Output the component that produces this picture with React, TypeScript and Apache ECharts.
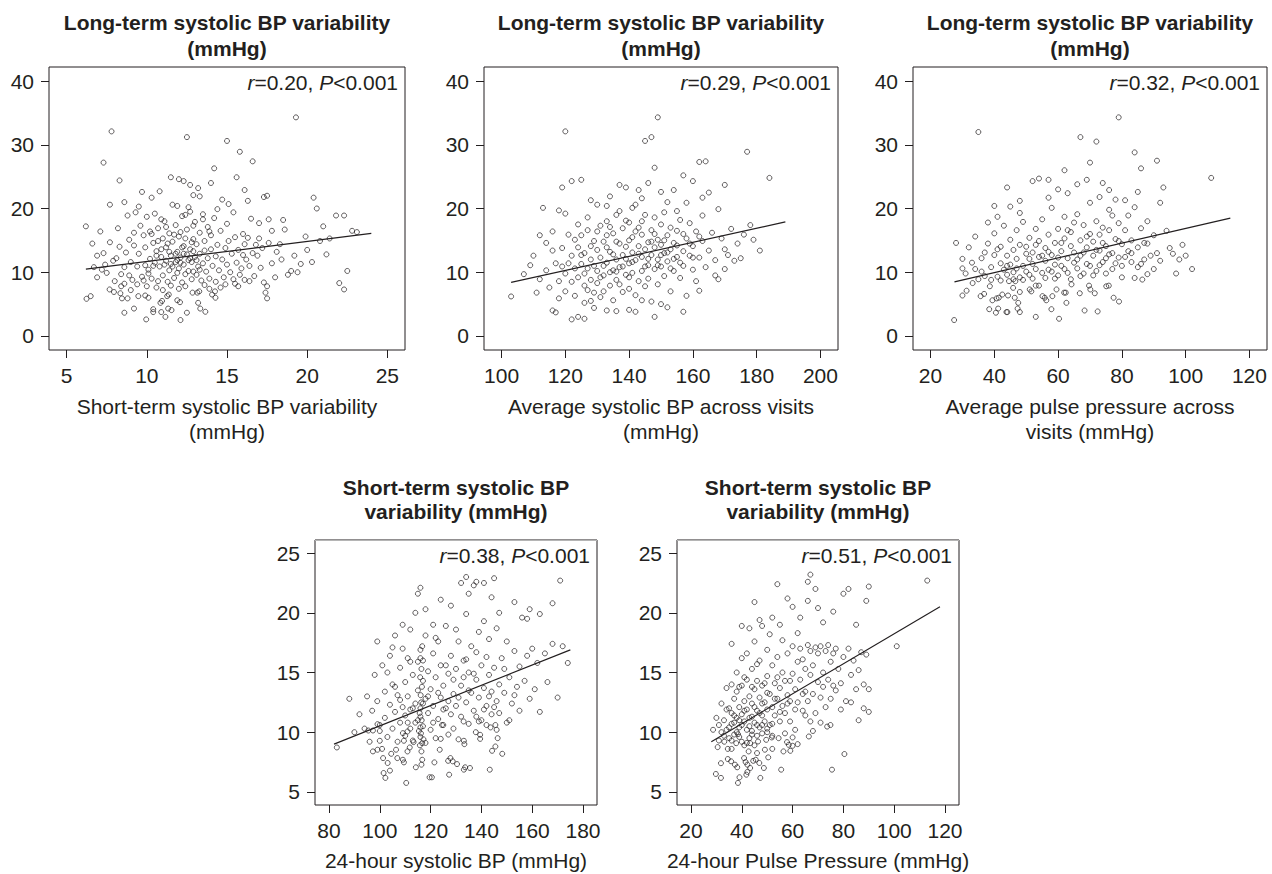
import React, { useEffect, useRef } from 'react';
import * as echarts from 'echarts';

const FONT = '"Liberation Sans", Arial, Helvetica, sans-serif';
const INK = '#231f20';

// ---------- tick labels ----------
const X1_TICKS = [5, 10, 15, 20, 25];
const X2_TICKS = [100, 120, 140, 160, 180, 200];
const X3_TICKS = [20, 40, 60, 80, 100, 120];
const X4_TICKS = [80, 100, 120, 140, 160, 180];
const X5_TICKS = [20, 40, 60, 80, 100, 120];
const Y_TOP_TICKS = [0, 10, 20, 30, 40];
const Y_BOT_TICKS = [5, 10, 15, 20, 25];

// ---------- titles ----------
const TITLES = [
  'Long-term systolic BP variability\n(mmHg)',
  'Long-term systolic BP variability\n(mmHg)',
  'Long-term systolic BP variability\n(mmHg)',
  'Short-term systolic BP\nvariability (mmHg)',
  'Short-term systolic BP\nvariability (mmHg)',
];
const X_NAMES = [
  'Short-term systolic BP variability\n(mmHg)',
  'Average systolic BP across visits\n(mmHg)',
  'Average pulse pressure across\nvisits (mmHg)',
  '24-hour systolic BP (mmHg)',
  '24-hour Pulse Pressure (mmHg)',
];
const R_VALUES = ['0.20', '0.29', '0.32', '0.38', '0.51'];

// ---------- regression lines ----------
const FIT1: [number, number][] = [[6.2, 10.5], [24.0, 16.1]];
const FIT2: [number, number][] = [[103, 8.4], [189, 17.9]];
const FIT3: [number, number][] = [[27.5, 8.5], [114, 18.5]];
const FIT4: [number, number][] = [[82, 9.0], [175, 16.9]];
const FIT5: [number, number][] = [[28, 9.2], [118, 20.5]];

// ---------- panel 1: short-term SBPV vs long-term SBPV ----------
const P1: [number, number][] = [
  [6.24,5.83],[6.5,6.25],[7.68,7.3],[7.95,6.9],[8.35,6.7],[8.4,7.8],[8.45,5.9],[8.6,8.2],[8.8,5.9],[8.6,3.65],[9.2,4.3],[9.47,6.25],[9.96,2.6],[9.9,6.35],[10.1,6.0],[10.0,7.8],[10.4,4.2],[10.4,3.75],[10.9,3.75],[11.16,3.0],[10.95,5.5],[10.85,5.2],[11.27,6.25],[11.37,6.5],[11.54,4.06],[11.33,4.3],[11.9,5.6],[12.07,5.3],[12.1,2.5],[12.5,3.65],[13.2,5.2],[13.33,4.3],[13.65,3.8],[12.85,6.8],[13.15,6.8],[13.27,7.0],[13.9,7.4],[14.07,6.5],[14.28,6.0],[14.25,7.0],[15.5,8.2],[15.7,7.8],[16.4,8.6],[17.4,6.8],[17.5,7.8],[17.5,5.9],[22.0,8.3],[22.3,7.3],
  [7.8,32.1],[12.5,31.2],[19.3,34.3],[15.0,30.6],[15.8,28.9],[16.6,27.4],[7.3,27.2],[8.3,24.4],[7.7,20.6],[11.5,24.9],[12.0,24.6],[12.3,24.3],[13.2,23.2],[12.7,23.7],[14.2,26.3],[9.7,22.6],[10.3,21.7],[13.3,21.9],[12.6,20.2],[14.7,21.4],[15.1,20.7],[16.3,21.2],[17.3,21.8],[17.5,22.0],[20.4,21.7],[20.6,20.0],[21.8,18.9],[22.3,18.9],[22.8,16.5],[23.1,16.3],[22.5,10.2],[20.8,14.9],[21.4,15.3],[19.9,15.6],[19.2,12.6],[19.0,10.2],[18.8,9.6],[19.6,11.3],[18.3,14.4],[18.6,16.7],[17.6,18.3],[17.0,17.7],[16.8,14.3],[16.5,18.4],[16.2,12.0],[15.4,8.9],[16.0,16.0],[16.9,12.6],[17.8,11.4],[18.1,13.2],
  [6.2,17.2],[6.6,14.5],[6.9,12.6],[7.1,16.4],[7.3,13.0],[7.5,9.9],[7.2,10.4],[6.7,10.8],[7.9,11.8],[7.7,14.7],[8.1,12.2],[8.2,16.9],[8.4,9.7],[8.6,10.8],[8.7,13.1],[8.9,15.1],[8.8,18.9],[9.0,11.6],[9.1,8.8],[9.3,19.4],[9.2,14.2],[9.4,10.9],[9.5,12.9],[9.6,17.3],[9.7,9.3],[9.8,15.8],[9.9,11.1],[9.9,13.9],[10.0,18.7],[10.1,10.4],[10.2,12.1],[10.2,16.4],[10.3,9.0],[10.4,14.6],[10.5,11.5],[10.5,19.2],[10.6,13.3],[10.7,8.6],[10.7,16.9],[10.8,10.9],[10.9,12.4],[11.0,15.3],[11.0,9.5],[11.1,18.0],[11.2,11.8],[11.2,13.9],[11.3,8.5],[11.4,16.1],[11.4,10.3],[11.5,12.6],[11.6,14.8],[11.6,20.6],[11.7,9.1],[11.8,11.6],[11.8,17.4],[11.9,13.2],[12.0,10.6],[12.0,15.6],[12.1,12.3],[12.2,8.4],[12.2,18.8],[12.3,11.2],[12.3,14.1],[12.4,9.7],[12.5,16.7],[12.5,12.8],[12.6,10.2],[12.7,13.6],[12.7,19.5],[12.8,8.9],[12.8,11.6],[12.9,15.2],[13.0,12.4],[13.0,17.9],[13.1,9.6],[13.1,14.4],[13.2,10.9],[13.3,16.2],[13.3,12.9],[13.4,8.7],[13.5,11.4],[13.5,19.1],[13.6,14.9],[13.7,10.1],[13.8,12.2],[13.8,17.1],[13.9,9.0],[14.0,13.6],[14.0,15.8],[14.1,11.0],[14.2,18.5],[14.3,8.5],[14.3,12.5],[14.4,14.3],[14.5,10.3],[14.6,16.5],[14.7,12.0],[14.8,9.2],[14.9,13.8],[15.0,11.2],[15.0,17.6],[15.1,14.9],[15.2,10.0],[15.3,12.9],[15.4,19.4],[15.5,15.5],[15.6,11.5],[15.7,13.5],[15.9,10.6],[16.0,12.7],[16.1,14.4],[16.3,15.4],[16.4,11.0],[16.6,13.0],[16.7,9.4],[17.0,15.3],[17.1,10.7],[17.2,13.8],[17.6,14.6],[17.8,16.5],[18.0,9.2],[18.4,12.0],[18.5,18.2],[19.4,10.0],[20.0,13.5],[20.3,11.6],[21.0,17.2],[21.2,12.8],
  [9.4,8.1],[9.8,8.7],[10.6,7.6],[11.0,7.2],[11.5,7.9],[12.0,7.4],[12.4,7.8],[13.6,8.0],[14.6,7.6],[9.0,7.2],[8.9,9.5],[10.1,9.8],[11.9,9.9],[12.9,10.1],[13.3,10.4],[10.4,11.0],[11.1,11.2],[12.6,11.9],[11.8,12.9],[10.9,13.6],[12.2,13.9],[13.6,13.4],[11.3,14.5],[12.8,14.7],[10.7,14.9],[12.4,15.3],[11.7,15.9],[13.9,16.4],[10.3,16.0],[12.1,16.3],[11.2,17.1],[12.9,17.3],[10.9,18.3],[13.5,18.3],[12.4,19.0],[14.4,19.9],[11.9,20.4],[9.5,20.3],[8.6,21.0],[10.8,22.7],[12.9,22.1],[14.0,24.0],[15.6,24.9],[16.1,22.9],[9.2,16.2],[8.3,14.0],[7.4,11.2],[6.9,9.2],[8.0,8.6],[14.9,8.1],[16.1,8.8],[15.8,9.6],[17.3,8.4],
  [11.6,10.9],[12.1,11.5],[12.7,12.2],[11.4,13.2],[12.3,12.9],[13.1,11.9],[11.9,11.9],[10.6,12.6],[12.9,13.3],[11.5,11.3],
];

// ---------- panel 2: average SBP vs long-term SBPV ----------
const P2: [number, number][] = [
  [103,6.2],[107,9.7],[110,12.6],[112,15.8],[113,20.1],[114,10.3],[115,7.6],[116,4.0],[117,3.7],[118,5.9],[120,32.1],[149,34.3],[145,30.6],[147,31.2],[125,24.5],[122,24.3],[162,27.3],[164,27.4],[177,28.9],[184,24.8],[148,26.4],[137,23.7],[139,23.3],[143,22.9],[134,21.9],[130,20.6],[120,19.2],[118,19.7],[116,16.4],[119,13.8],[121,11.4],[122,2.6],[124,3.0],[126,5.2],[128,5.5],[133,4.0],[140,4.1],[142,3.8],[148,3.0],[150,5.0],[157,3.8],[162,7.1],[167,9.5],[168,8.9],[173,11.8],[176,15.9],[178,17.4],[170,13.6],[163,21.7],[165,22.5],[160,24.3],[158,20.9],[155,19.6],[152,21.0],[150,22.6],[146,24.0],[141,20.1],[136,19.0],[127,18.6],[124,17.5],[123,15.1],[125,12.7],[126,9.8],[127,7.2],[128,14.1],[129,11.0],[130,8.3],[130,16.4],[131,12.3],[131,6.1],[132,9.5],[132,14.8],[133,11.5],[133,18.0],[134,7.9],[134,13.2],[135,10.3],[135,16.1],[135,5.6],[136,12.0],[136,8.8],[137,14.5],[137,10.8],[137,19.6],[138,6.9],[138,12.7],[138,16.9],[139,9.6],[139,14.0],[140,11.4],[140,17.8],[140,7.4],[141,13.1],[141,9.9],[141,15.5],[142,11.9],[142,20.6],[142,6.4],[143,14.1],[143,8.6],[143,17.0],[144,12.4],[144,10.2],[144,15.9],[145,13.6],[145,7.8],[145,19.0],[146,11.1],[146,14.7],[146,9.0],[147,16.6],[147,12.7],[147,5.4],[148,13.9],[148,10.5],[148,18.6],[149,15.1],[149,8.1],[149,12.0],[150,17.5],[150,10.9],[150,14.3],[151,13.0],[151,19.4],[151,9.4],[152,15.8],[152,11.7],[153,13.6],[153,7.0],[153,17.0],[154,10.2],[154,14.6],[155,12.4],[155,16.5],[156,9.1],[156,18.2],[157,13.3],[157,11.0],[158,15.3],[158,6.3],[159,12.6],[159,17.7],[160,10.4],[160,14.1],[161,16.4],[161,8.6],[162,12.3],[163,18.9],[163,14.9],[164,10.8],[165,13.4],[166,16.2],[167,11.9],[168,19.9],[169,15.3],[170,10.5],[171,12.7],[172,16.8],[174,14.5],[175,12.2],[179,15.1],[181,13.4],
  [120,9.8],[120,7.0],[121,15.9],[122,12.6],[122,8.5],[123,10.6],[123,6.3],[124,13.9],[124,9.2],[125,11.3],[125,15.8],[126,13.0],[126,7.9],[127,10.6],[127,16.6],[128,12.0],[128,8.8],[129,14.9],[129,6.8],[130,10.2],[130,13.5],[131,17.3],[131,9.2],[132,11.0],[132,7.0],[133,13.9],[133,15.8],[134,10.0],[134,17.1],[135,12.8],[136,14.8],[136,10.1],[137,8.1],[138,10.9],[139,12.1],[139,18.1],[140,15.0],[140,9.2],[141,11.6],[142,16.4],[143,12.9],[144,18.0],[145,10.9],[146,12.1],[147,14.8],[148,16.0],[149,11.1],[150,12.7],[151,15.0],[152,13.1],[153,10.6],[154,12.1],[155,14.2],[156,11.5],[157,16.0],[159,14.5],[160,12.3],[162,15.6],[117,11.4],[118,8.6],[119,10.9],[116,13.4],[114,14.6],[112,8.9],[109,11.1],[111,6.8],[119,23.3],[128,21.3],[133,20.4],[144,21.6],[154,22.9],[157,25.2],[170,23.7],[129,4.4],[136,3.9],[144,5.6],[152,4.5],[126,2.7],
];

// ---------- panel 3: average pulse pressure vs long-term SBPV ----------
const P3: [number, number][] = [
  [27.4,2.5],[30.0,6.35],[31.3,7.1],[33.2,8.3],[35.7,6.25],[36.8,6.6],[38.4,4.2],[38.6,7.8],[39.4,5.6],[40.5,3.65],[41.2,4.3],[40.7,5.9],[41.4,6.0],[42.5,6.5],[43.8,3.75],[44.1,3.75],[44.3,6.35],[44.6,8.6],[45.9,7.55],[46.4,6.0],[46.6,8.6],[47.5,5.2],[47.3,4.3],[48.0,3.75],[48.0,6.9],[51.1,7.3],[51.6,7.0],[53.0,3.0],[53.0,7.9],[54.0,7.9],[55.1,6.25],[55.8,6.0],[56.3,5.6],[57.9,4.2],[58.2,6.25],[59.5,7.3],[60.3,2.7],[61.9,6.8],[62.4,6.8],[62.6,5.2],[64.2,8.1],[66.8,6.7],[68.3,4.0],[69.7,7.9],[70.1,7.3],[71.5,6.7],[72.4,3.85],[75.1,7.8],[75.9,7.9],[77.4,6.0],[79.1,5.4],[86.4,8.85],
  [35,32.0],[67,31.2],[72,30.5],[79,34.3],[84,28.8],[91,27.5],[86,26.3],[70,27.2],[52,24.3],[54,24.7],[57,24.5],[108,24.8],[93,23.3],[85,22.6],[92,20.9],[100,12.6],[98,12.0],[102,10.5],[97,9.8],[88,9.7],[84,9.1],[62,26.0],[66,23.8],[63,22.4],[74,24.0],[76,22.9],[81,21.3],[45,20.3],[48,19.3],[41,18.7],[38,17.8],[32,13.9],[30,12.1],[28,14.6],[31,9.8],[33,11.5],[34,10.5],[36,12.2],[37,9.4],[38,14.5],[39,10.8],[40,12.7],[40,16.1],[41,9.3],[42,11.4],[42,14.0],[43,10.4],[43,17.3],[44,12.6],[44,9.6],[45,15.1],[45,11.2],[46,13.5],[46,10.0],[47,16.6],[47,12.1],[48,9.2],[48,14.3],[49,11.0],[49,17.9],[50,12.9],[50,10.1],[51,15.4],[51,9.6],[52,13.1],[52,11.3],[53,16.8],[53,10.5],[54,12.4],[54,14.9],[55,9.9],[55,18.3],[56,11.8],[56,13.8],[57,10.4],[57,15.9],[58,12.7],[58,20.1],[59,11.2],[59,14.6],[60,9.5],[60,16.8],[61,13.3],[61,11.0],[62,15.3],[62,18.7],[63,12.2],[63,9.9],[64,14.1],[64,16.3],[65,11.5],[65,13.1],[66,19.1],[66,10.6],[67,15.0],[67,12.6],[68,17.4],[68,9.8],[69,13.9],[69,11.3],[70,16.0],[70,20.9],[71,12.6],[71,14.8],[72,10.2],[72,18.0],[73,13.4],[73,15.9],[74,11.6],[74,17.0],[75,14.1],[75,12.2],[76,16.6],[76,19.8],[77,13.0],[77,10.5],[78,15.2],[78,21.4],[79,12.3],[79,17.7],[80,14.4],[80,11.0],[81,16.6],[82,13.3],[82,18.9],[83,15.0],[83,11.6],[84,20.2],[85,13.9],[86,16.9],[86,11.3],[87,14.6],[88,18.0],[89,12.6],[90,15.8],[91,13.0],[92,11.8],[94,16.5],[95,13.8],[96,12.9],[99,14.3],
  [35,8.9],[36,10.1],[37,13.1],[39,8.8],[41,13.6],[42,8.7],[44,11.0],[46,8.9],[47,10.6],[49,8.8],[50,14.0],[51,12.1],[52,9.0],[53,14.3],[55,12.6],[56,9.1],[57,13.2],[58,10.1],[59,9.0],[60,12.3],[61,14.6],[62,10.5],[63,16.6],[64,8.9],[65,17.8],[66,12.0],[67,9.4],[68,13.1],[69,15.6],[70,11.0],[71,9.5],[72,13.5],[73,11.1],[74,14.6],[75,9.8],[76,12.8],[77,18.9],[78,11.4],[79,14.9],[80,9.2],[81,12.4],[83,13.0],[85,10.8],[87,12.0],[88,14.5],[90,10.5],[48,21.2],[44,23.3],[57,21.7],[60,23.0],[69,24.5],[73,21.8],[40,20.4],[34,15.6],[30,10.6],
];

// ---------- panel 4: 24-h SBP vs short-term SBPV ----------
const P4: [number, number][] = [
  [83.1,8.72],[95.5,10.14],[97.3,10.14],[99.1,10.67],[100,10.1],[97.3,8.39],[99.1,8.53],[100.9,8.6],[100,9.28],[101.3,7.83],[103.1,7.42],[104.5,8.19],[106.4,8.53],[106.9,7.83],[101.5,6.58],[102.2,6.17],[104,6.78],[109.1,7.69],[109.5,7.47],[110.4,5.75],[110.9,8.39],[111.8,8.72],[109.5,9.28],[109.1,9.92],[110.9,10.06],[113.3,9.17],[114.2,7.06],[116.4,7.28],[116.7,7.69],[116.4,8.39],[116.7,9.08],[119.6,6.22],[120.5,6.22],[121.5,7.47],[123.6,8.53],[124,9.44],[124.5,10.6],[126.9,7.6],[127.8,7.83],[128.7,7.56],[127.3,6.44],[130.4,7.33],[133.1,6.86],[133.6,7.06],[135.5,7.0],[133.3,9.0],[133.1,9.28],[137.8,10.0],[139.5,9.78],[139.5,9.44],[143.3,6.86],[144.2,8.44],[145.5,8.8],[146.4,9.5],[148.2,8.19],[145.5,10.6],[143.6,10.4],
  [134,23.0],[138,22.6],[137,22.3],[171,22.7],[116,22.1],[115,21.6],[147,20.0],[132,22.5],[159,20.3],[158,19.5],[144,21.3],[121,19.0],[99,17.6],[114,20.0],[88,12.8],[92,11.5],[95,13.0],[97,11.8],[98,14.8],[99,12.6],[100,10.6],[101,15.6],[102,11.2],[102,13.4],[103,9.6],[104,12.3],[104,16.4],[105,10.3],[105,14.0],[106,11.7],[106,18.1],[107,9.2],[107,13.1],[108,10.8],[108,15.4],[109,12.1],[109,17.0],[110,9.7],[110,11.4],[110,14.2],[111,13.0],[111,16.2],[112,10.3],[112,11.9],[112,18.6],[113,9.3],[113,14.8],[114,12.4],[114,10.8],[115,13.5],[115,15.9],[116,9.6],[116,11.3],[116,12.0],[116,16.9],[117,10.5],[117,14.3],[118,12.8],[118,9.1],[118,18.1],[119,11.6],[119,15.1],[120,10.2],[120,13.6],[121,12.2],[121,16.6],[122,9.5],[122,14.6],[123,11.1],[123,17.6],[124,12.9],[124,15.6],[125,10.6],[125,13.9],[126,12.0],[126,18.9],[127,9.8],[127,14.9],[128,11.5],[128,16.4],[129,13.2],[129,10.3],[130,15.3],[130,12.2],[131,17.6],[131,9.4],[132,13.9],[132,11.3],[133,16.0],[133,14.6],[134,12.5],[134,19.9],[135,10.7],[135,15.0],[136,13.3],[136,17.2],[137,11.8],[138,14.4],[138,16.7],[139,12.9],[139,18.4],[140,11.0],[140,15.6],[141,13.7],[141,19.3],[142,12.2],[142,16.3],[143,14.8],[143,17.8],[144,11.5],[144,13.4],[145,15.4],[146,12.6],[146,18.7],[147,14.0],[148,16.2],[149,13.3],[150,17.6],[151,14.6],[152,12.4],[153,16.8],[154,13.8],[155,15.5],[156,19.6],[157,14.3],[158,16.4],[159,12.8],[160,17.0],[161,13.6],[162,15.8],[163,11.7],[165,16.6],[166,14.2],[168,17.4],[170,12.9],[172,17.2],[174,15.8],
  [106,13.8],[108,12.7],[111,10.8],[113,12.0],[115,11.0],[117,12.4],[119,13.0],[121,10.8],[123,13.3],[125,11.9],[127,12.6],[129,14.4],[131,12.9],[133,10.9],[135,13.5],[137,14.9],[139,10.9],[141,11.9],[143,13.0],[145,12.1],[147,11.6],[149,15.3],[151,11.0],[153,13.1],[96,9.2],[94,10.3],[90,10.0],[103,15.0],[105,17.1],[109,19.0],[112,15.9],[118,20.3],[124,21.1],[128,20.6],[135,21.6],[141,22.5],[145,22.9],[153,20.9],[163,19.9],[168,20.8],[117,16.0],[122,17.9],[126,15.6],[130,18.6],[134,16.1],[138,11.3],[142,10.6],[146,10.2],[150,10.8],[155,11.8],
  [115.8,8.9],[116.2,9.9],[116.0,10.4],[116.5,11.0],[115.7,11.6],[116.3,12.5],[116.1,13.1],[116.6,13.8],[115.9,14.6],[116.4,15.3],[116.0,16.2],[116.7,17.2],[117.2,9.4],[115.4,10.1],
];

// ---------- panel 5: 24-h pulse pressure vs short-term SBPV ----------
const P5: [number, number][] = [
  [28.7,10.2],[30.5,8.75],[31.8,7.4],[29.8,6.5],[31.8,6.17],[33.1,9.2],[34.5,8.6],[36,8.6],[34.5,7.75],[35.8,7.56],[37.3,7.28],[38.2,7.06],[38.5,5.75],[39.1,6.22],[37.8,9.08],[38.5,9.83],[40.9,7.83],[41.5,7.5],[42.2,7.28],[42.7,8.39],[43.3,9.08],[44.5,7.6],[41.8,6.44],[42.2,6.67],[43.3,7.0],[45.5,7.69],[46.0,8.25],[46.9,7.42],[47.3,6.17],[48.7,7.0],[49.1,8.53],[49.6,9.36],[50.4,7.89],[46.4,9.22],[50,10.0],[51.8,9.56],[54.5,9.5],[55.5,6.86],[56.4,8.39],[57.8,9.17],[58.5,8.94],[59.1,8.44],[60,8.86],[60,9.56],[66.4,9.64],[73.6,10.47],[74.9,10.6],[80.4,8.17],[75.5,6.86],
  [113,22.7],[67,23.2],[66,22.6],[54,22.4],[45,20.9],[69,22.0],[82,22.0],[90,22.2],[101,17.2],[89,21.0],[30,11.2],[31,10.6],[32,12.4],[33,11.0],[34,13.7],[35,10.4],[35,12.0],[36,11.6],[36,14.0],[37,10.8],[37,12.8],[38,11.2],[38,13.4],[38,15.0],[39,10.4],[39,12.1],[40,11.5],[40,13.9],[40,16.2],[41,10.9],[41,12.6],[42,11.9],[42,14.4],[42,10.2],[43,13.0],[43,11.2],[44,12.4],[44,15.3],[44,9.8],[45,10.8],[45,13.6],[45,17.6],[46,11.8],[46,14.3],[47,10.4],[47,12.9],[47,16.0],[48,11.4],[48,13.9],[48,18.9],[49,12.5],[49,10.9],[50,14.7],[50,11.9],[50,16.9],[51,13.2],[51,10.6],[52,12.1],[52,15.6],[52,19.6],[53,11.4],[53,14.1],[54,12.8],[54,16.3],[55,10.9],[55,13.7],[56,15.0],[56,12.2],[56,17.7],[57,11.6],[57,14.3],[58,13.1],[58,16.6],[59,10.9],[59,12.6],[60,14.9],[60,17.2],[61,11.9],[61,13.6],[62,15.9],[62,12.5],[63,14.4],[63,17.0],[64,11.8],[64,16.1],[65,13.4],[65,15.3],[66,12.6],[66,17.3],[67,14.8],[67,16.8],[68,13.2],[68,15.6],[69,17.1],[69,11.6],[70,14.2],[70,16.6],[71,12.9],[71,17.2],[72,15.0],[72,13.8],[73,16.8],[74,14.4],[74,17.3],[75,12.8],[75,15.9],[76,16.6],[77,13.5],[77,17.0],[78,15.3],[79,14.1],[80,16.3],[81,12.6],[82,17.0],[83,14.8],[84,16.0],[85,13.6],[86,15.2],[87,16.7],[88,12.0],[88,14.0],[89,16.5],[90,11.7],[90,13.6],
  [63,19.6],[60,20.5],[58,21.2],[62,18.3],[55,19.0],[51,18.2],[47,19.4],[43,18.7],[40,18.9],[36,17.4],[72,19.2],[76,20.1],[80,21.6],[85,19.0],[66,21.0],[70,20.4],[33,9.7],[34,11.9],[36,9.3],[37,11.4],[39,13.8],[41,14.6],[43,9.5],[44,11.3],[46,9.7],[48,9.9],[50,10.3],[52,9.7],[53,12.8],[55,11.7],[57,9.9],[59,14.3],[61,10.2],[64,13.2],[67,10.9],[71,10.8],[73,12.1],[76,13.9],[79,11.9],[83,12.5],[86,11.0],[42,16.6],[46,15.7],[49,14.1],[54,14.6],[58,12.4],[65,11.4],[68,10.1],[39,9.6],[41,8.9],[45,8.9],[52,8.6],[62,9.0],
  [38,10.0],[39,11.0],[40,9.2],[40,10.6],[41,11.8],[42,9.1],[43,10.5],[44,10.1],[45,12.1],[46,10.6],[47,11.6],[48,10.6],[36,10.7],[37,9.8],[35,9.5],[34,10.2],[32,10.0],[31,9.3],[44,13.8],[48,12.4],[50,13.3],[52,10.7],
];

// ---------- layout ----------
const LAYOUT = [
  { left: 49, top: 67, width: 356, height: 283, xMin: 3.9, xMax: 26.1, yMin: -2.2, yMax: 42.2, xTicks: X1_TICKS, yTicks: Y_TOP_TICKS, nameGap: 44 },
  { left: 484, top: 67, width: 354, height: 283, xMin: 94.5, xMax: 205.5, yMin: -2.2, yMax: 42.2, xTicks: X2_TICKS, yTicks: Y_TOP_TICKS, nameGap: 44 },
  { left: 913, top: 67, width: 354, height: 283, xMin: 14.5, xMax: 125.5, yMin: -2.2, yMax: 42.2, xTicks: X3_TICKS, yTicks: Y_TOP_TICKS, nameGap: 44 },
  { left: 315, top: 540, width: 282, height: 267, xMin: 74.5, xMax: 185.5, yMin: 3.9, yMax: 26.1, xTicks: X4_TICKS, yTicks: Y_BOT_TICKS, nameGap: 43 },
  { left: 677, top: 540, width: 282, height: 267, xMin: 14.5, xMax: 125.5, yMin: 3.9, yMax: 26.1, xTicks: X5_TICKS, yTicks: Y_BOT_TICKS, nameGap: 43 },
];

const POINTS = [P1, P2, P3, P4, P5];
const FITS = [FIT1, FIT2, FIT3, FIT4, FIT5];

function buildOption() {
  const grid = LAYOUT.map((l) => ({
    left: l.left, top: l.top, width: l.width, height: l.height,
    show: true, borderColor: INK, borderWidth: 1, backgroundColor: 'transparent',
    containLabel: false,
  }));
  const labelStyle = { color: INK, fontSize: 21, fontFamily: FONT };
  const xAxis = LAYOUT.map((l, i) => ({
    type: 'value', gridIndex: i, min: l.xMin, max: l.xMax,
    axisLine: { show: false, onZero: false },
    axisTick: { show: true, inside: false, length: 8, lineStyle: { color: INK, width: 1 }, customValues: l.xTicks },
    axisLabel: { ...labelStyle, margin: 15, customValues: l.xTicks },
    splitLine: { show: false },
    name: X_NAMES[i], nameLocation: 'middle', nameGap: l.nameGap,
    nameTextStyle: { color: INK, fontSize: 21, fontFamily: FONT, lineHeight: 25, verticalAlign: 'top' },
  }));
  const yAxis = LAYOUT.map((l, i) => ({
    type: 'value', gridIndex: i, min: l.yMin, max: l.yMax,
    axisLine: { show: false, onZero: false },
    axisTick: { show: true, inside: false, length: 8, lineStyle: { color: INK, width: 1 }, customValues: l.yTicks },
    axisLabel: { ...labelStyle, margin: 15, customValues: l.yTicks },
    splitLine: { show: false },
  }));
  const series: any[] = [];
  POINTS.forEach((pts, i) => {
    series.push({
      type: 'scatter', xAxisIndex: i, yAxisIndex: i, data: pts,
      symbol: 'circle', symbolSize: 5,
      itemStyle: { color: 'rgba(0,0,0,0)', borderColor: INK, borderWidth: 0.9 },
      silent: true,
    });
    series.push({
      type: 'line', xAxisIndex: i, yAxisIndex: i, data: FITS[i],
      symbol: 'none', lineStyle: { color: INK, width: 1.2 }, silent: true, z: 3,
    });
  });
  const graphic: any[] = [];
  LAYOUT.forEach((l, i) => {
    const cx = l.left + l.width / 2;
    const topRow = i < 3;
    graphic.push({
      type: 'text', x: cx, y: topRow ? 9 : 475,
      style: {
        text: TITLES[i], fontSize: 21, fontWeight: 'bold', fontFamily: FONT, fill: INK,
        lineHeight: topRow ? 26 : 24,
        textAlign: 'center', align: 'center', textVerticalAlign: 'top', verticalAlign: 'top',
      },
    });
    graphic.push({
      type: 'text', x: l.left + l.width - 7, y: l.top + 15,
      style: {
        text: `{i|r}=${R_VALUES[i]}, {i|P}<0.001`, fontSize: 21, fontFamily: FONT, fill: INK,
        rich: { i: { fontStyle: 'italic', fontSize: 21, fontFamily: FONT, fill: INK } },
        textAlign: 'right', align: 'right', textVerticalAlign: 'middle', verticalAlign: 'middle',
      },
    });
    if (!topRow) {
      graphic.push({
        type: 'line', z: 10,
        shape: { x1: l.left, y1: l.top + 0.5, x2: l.left + l.width, y2: l.top + 0.5 },
        style: { stroke: '#b5b5b5', lineWidth: 1.2 },
      });
    }
  });
  return {
    animation: false,
    backgroundColor: '#ffffff',
    textStyle: { fontFamily: FONT },
    grid, xAxis, yAxis, series, graphic,
  };
}

export default function App() {
  const ref = useRef<HTMLDivElement>(null);
  useEffect(() => {
    document.body.style.margin = '0';
    if (!ref.current) return;
    const chart = echarts.init(ref.current, undefined, { renderer: 'svg' });
    chart.setOption(buildOption() as any);
    return () => chart.dispose();
  }, []);
  return <div ref={ref} style={{ width: 1272, height: 874 }} />;
}
